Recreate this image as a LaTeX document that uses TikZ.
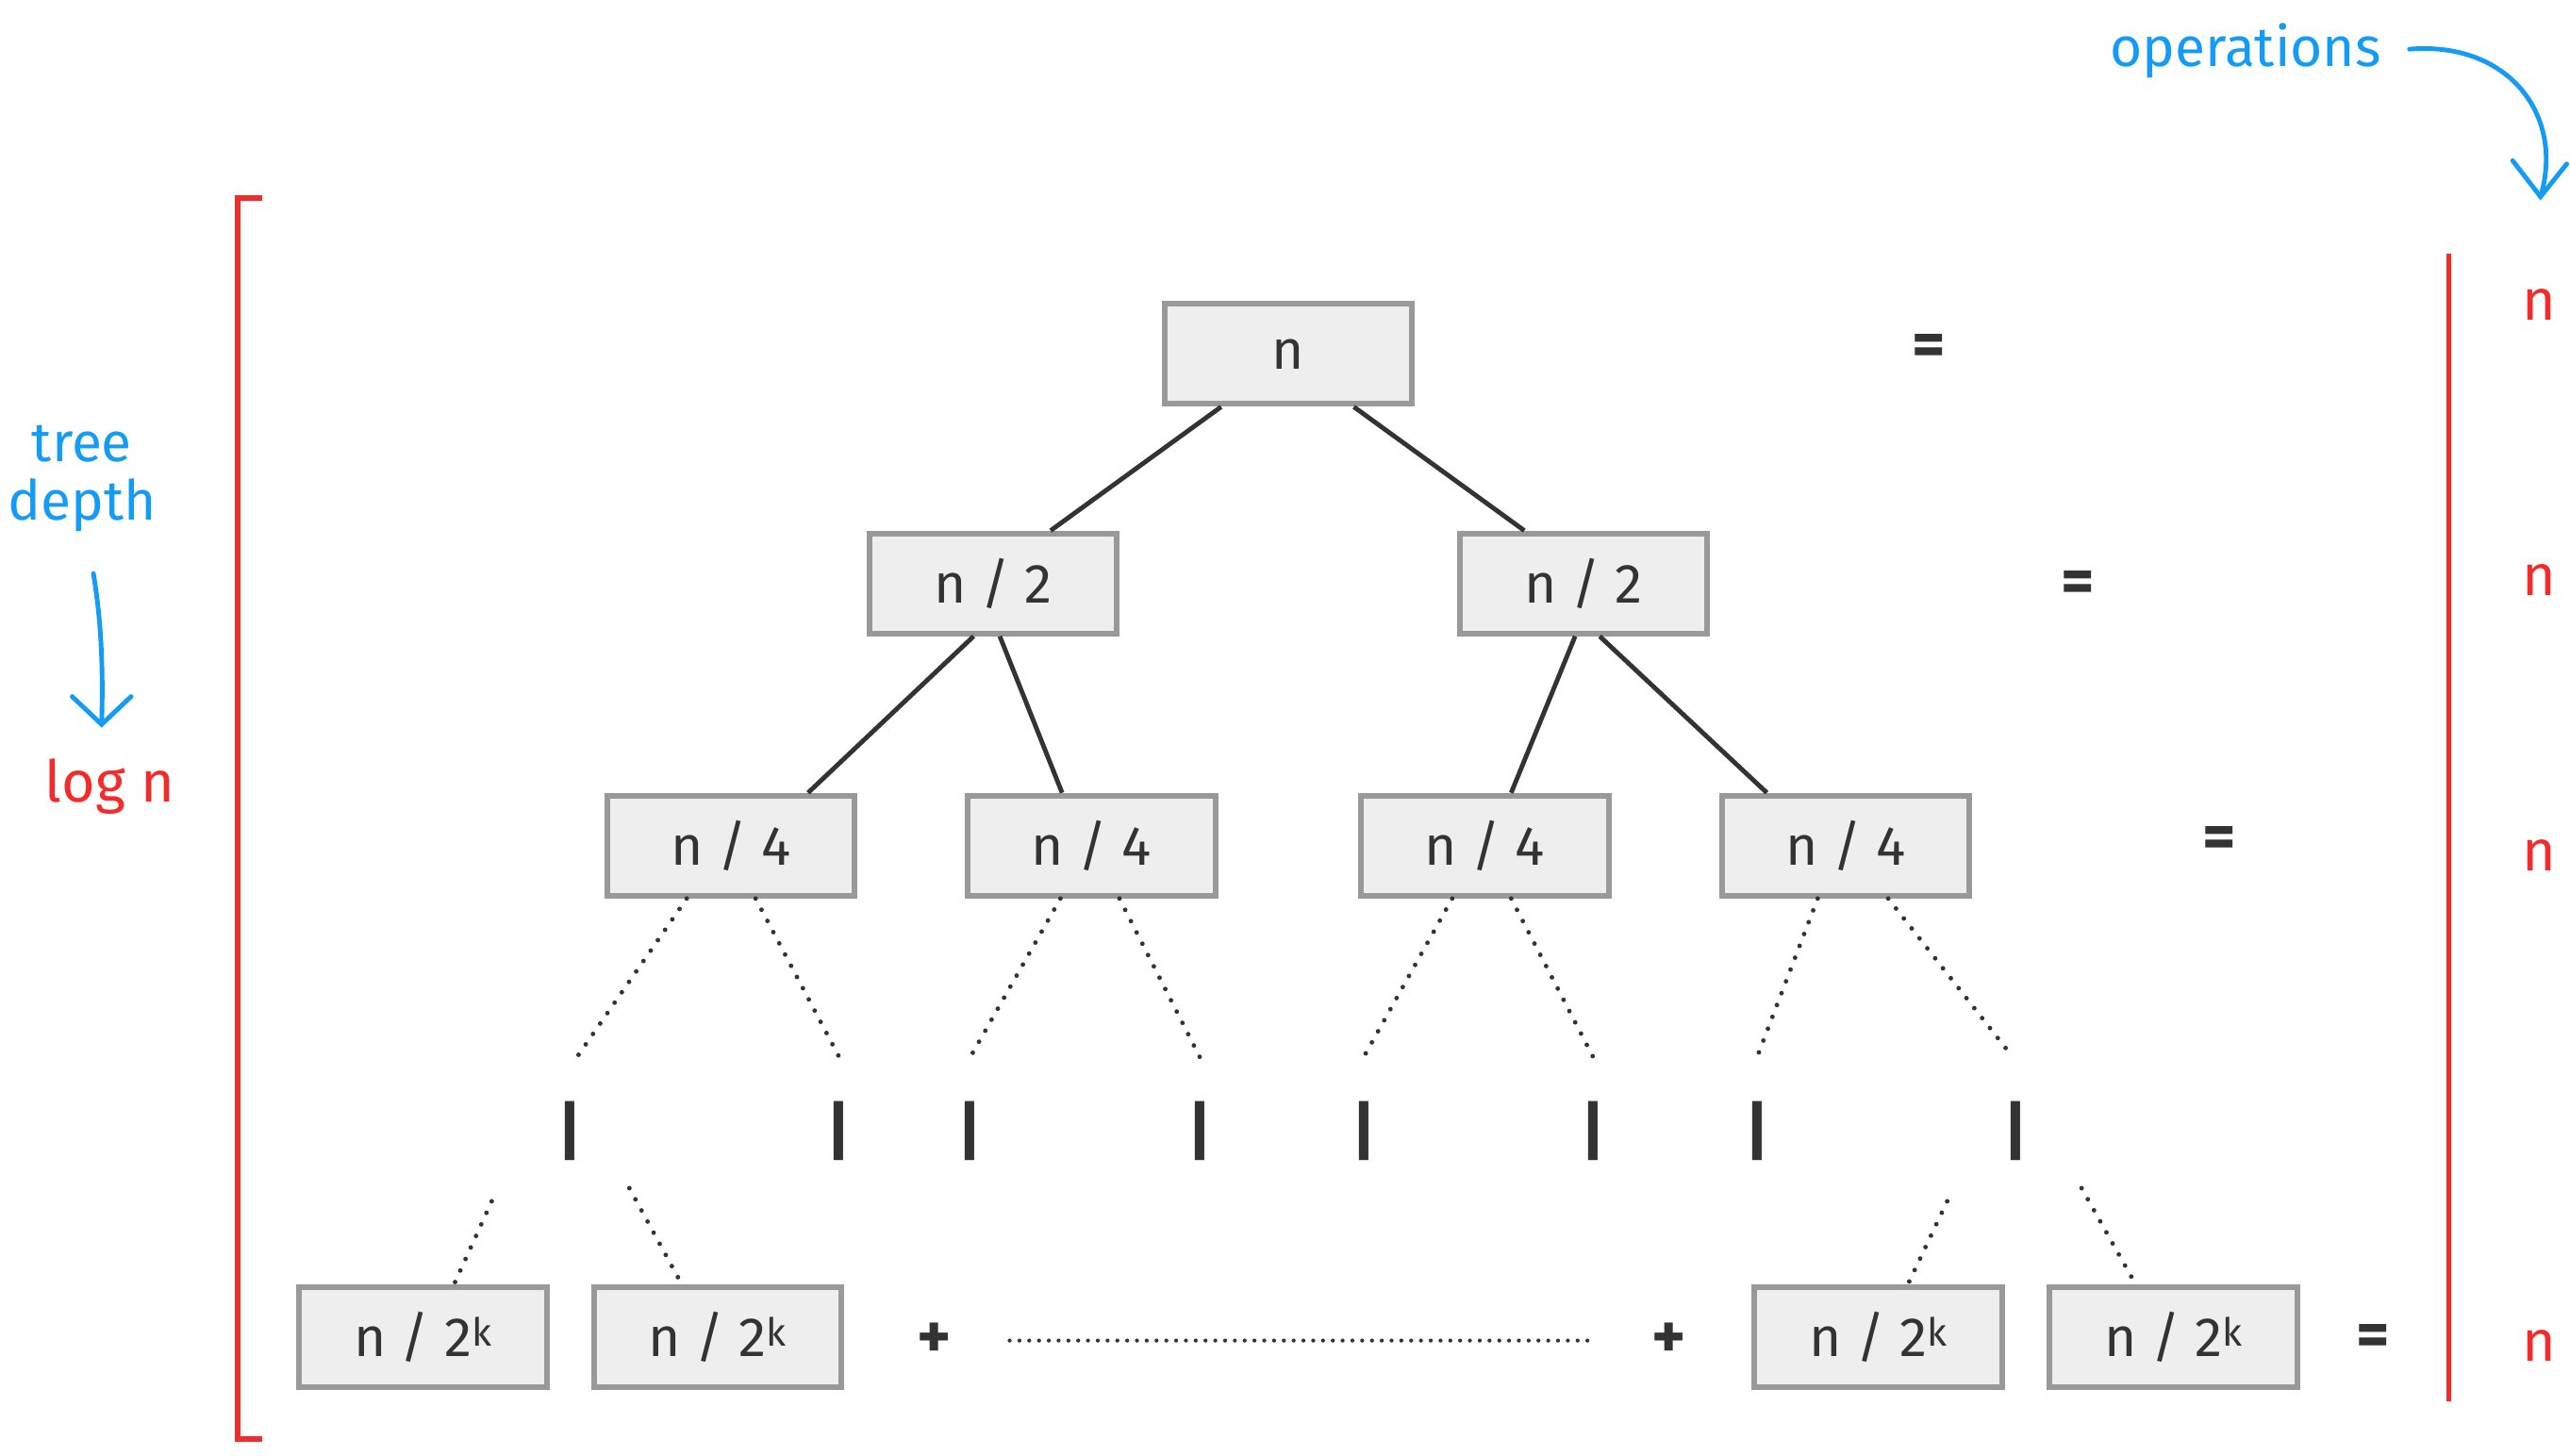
\documentclass[tikz,border=0pt]{standalone}
\usepackage{fontspec}
\setmainfont{Fira Sans}
\usetikzlibrary{calc}
\definecolor{boxfill}{HTML}{EEEEEE}
\definecolor{boxdraw}{HTML}{999999}
\definecolor{ink}{HTML}{333333}
\definecolor{myred}{HTML}{F52A2A}
\definecolor{myblue}{HTML}{139BF5}
\begin{document}
\begin{tikzpicture}[x=0.05cm,y=-0.05cm,
  box/.style={draw=boxdraw,fill=boxfill,line width=5pt,minimum width=7.55cm,minimum height=3.05cm,inner sep=0pt,text=ink,font=\fontsize{48}{54}\selectfont},
  edge/.style={draw=ink,line width=4pt},
  dots/.style={draw=ink,line width=4pt,dash pattern=on 0pt off 11pt,line cap=round},
  txt/.style={text=ink,font=\fontsize{50}{56}\selectfont},
  sym/.style={text=ink,font=\bfseries\fontsize{56}{60}\selectfont},
  rtxt/.style={text=myred,font=\fontsize{50}{56}\selectfont},
  btxt/.style={text=myblue,font=\fontsize{48}{54}\selectfont}]
\useasboundingbox (0,0) rectangle (1568,888);
\node[box] (r) at (786,216) {n};
\node[box] (a1) at (606,356) {n / 2};
\node[box] (a2) at (966,356) {n / 2};
\node[box] (b1) at (446,516) {n / 4};
\node[box] (b2) at (666,516) {n / 4};
\node[box] (b3) at (906,516) {n / 4};
\node[box] (b4) at (1126,516) {n / 4};
\node[box] (c1) at (258,816) {n / 2\textsuperscript{k}};
\node[box] (c2) at (438,816) {n / 2\textsuperscript{k}};
\node[box] (c3) at (1146,816) {n / 2\textsuperscript{k}};
\node[box] (c4) at (1326,816) {n / 2\textsuperscript{k}};
\draw[edge] ($(r.south)+(-41,0)$) -- ($(a1.north)+(35,0)$);
\draw[edge] ($(r.south)+(40,0)$) -- ($(a2.north)+(-36,0)$);
\draw[edge] ($(a1.south)+(-12,0)$) -- ($(b1.north)+(47,0)$);
\draw[edge] ($(a1.south)+(4,0)$) -- ($(b2.north)+(-18,0)$);
\draw[edge] ($(a2.south)+(-5,0)$) -- ($(b3.north)+(16,0)$);
\draw[edge] ($(a2.south)+(10,0)$) -- ($(b4.north)+(-48,0)$);
\foreach \n/\l/\r/\xl/\xr in {b1/-27/15/352/512, b2/-19/17/592/732, b3/-20/16/832/972, b4/-17/26/1072/1228}{
  \coordinate (\n L) at (\xl,645);
  \coordinate (\n R) at (\xr,645);
  \draw[dots] ($(\n.south)+(\l,0)$) -- (\n L);
  \draw[dots] ($(\n.south)+(\r,0)$) -- (\n R);
}
\foreach \x [count=\i] in {348,512,592,732,832,972,1072,1230}{
  \node[sym] (v\i) at (\x,690) {|};
}
\coordinate (d1) at (300,733); \coordinate (d2) at (384,725);
\coordinate (d3) at (1188,733); \coordinate (d4) at (1270,725);
\draw[dots] (d1) -- ($(c1.north)+(19,0)$);
\draw[dots] (d2) -- ($(c2.north)+(-22,0)$);
\draw[dots] (d3) -- ($(c3.north)+(18,0)$);
\draw[dots] (d4) -- ($(c4.north)+(-23,0)$);
\node[sym] (p1) at (570,818) {+};
\node[sym] (p2) at (1018,818) {+};
\coordinate (q1) at (616,818); \coordinate (q2) at (970,818);
\draw[dots,line width=3.5pt,dash pattern=on 0pt off 8.5pt] (q1) -- (q2);
\node[sym] (e1) at (1177,214) {=};
\node[sym] (e2) at (1268,358) {=};
\node[sym] (e3) at (1354,514) {=};
\node[sym] (e4) at (1448,818) {=};
\coordinate (k1) at (160,121); \coordinate (k2) at (145,121);
\coordinate (k3) at (145,878); \coordinate (k4) at (160,878);
\draw[myred,line width=5pt] (k1) -- (k2) -- (k3) -- (k4);
\coordinate (m1) at (1494,155); \coordinate (m2) at (1494,855);
\draw[myred,line width=4pt] (m1) -- (m2);
\node[rtxt] (n1) at (1549,186) {n};
\node[rtxt] (n2) at (1549,354) {n};
\node[rtxt] (n3) at (1549,522) {n};
\node[rtxt] (n4) at (1549,821) {n};
\node[btxt,align=center,font=\fontsize{48}{50}\selectfont] (td) at (50,292) {tree\\depth};
\coordinate (t1) at (57,350); \coordinate (t2) at (62,442);
\draw[myblue,line width=4pt,line cap=round] (t1) .. controls (62,380) and (63,410) .. (t2);
\draw[myblue,line width=4pt,line cap=round] (44,425) -- (t2) -- (80,425);
\node[rtxt] (lg) at (67,480) {log n};
\node[btxt] (op) at (1370,31) {operations};
\coordinate (o1) at (1470,30); \coordinate (o2) at (1550,120);
\draw[myblue,line width=4pt,line cap=round] (o1) .. controls (1530,25) and (1565,70) .. (o2);
\draw[myblue,line width=4pt,line cap=round] (1533,98) -- (o2) -- (1566,100);
\end{tikzpicture}
\end{document}
